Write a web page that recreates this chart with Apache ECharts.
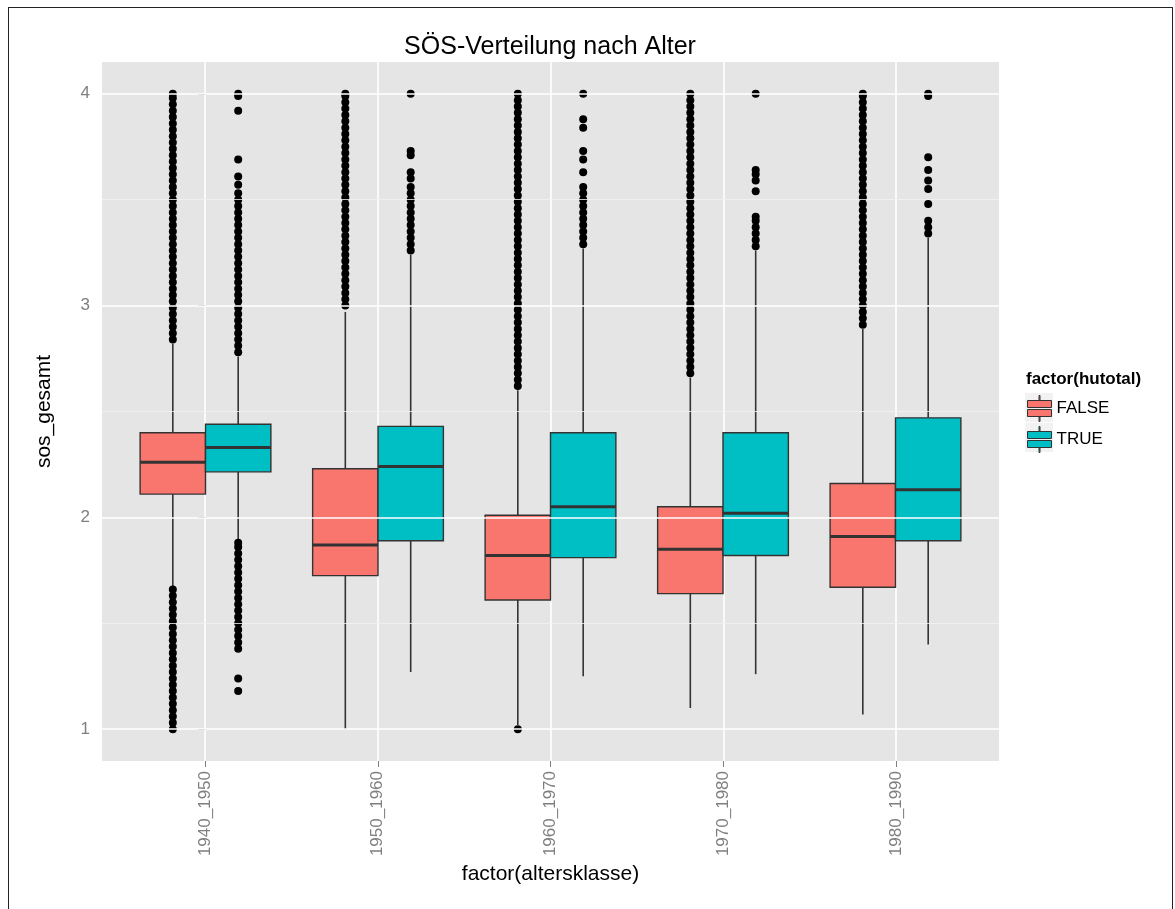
<!DOCTYPE html>
<html><head><meta charset="utf-8">
<script src="https://cdn.jsdelivr.net/npm/echarts@6/dist/echarts.min.js"></script>
<style>
html,body{margin:0;padding:0;background:#fff}
#c{width:1175px;height:909px;position:absolute;left:0;top:0}
#frame{position:absolute;left:8px;top:7px;width:1163px;height:920px;border:1.5px solid #222;pointer-events:none}
</style>
</head><body><div id="c"></div><div id="frame"></div>
<script>
// ---------- data ----------
const categories = ['1940_1950', '1950_1960', '1960_1970', '1970_1980', '1980_1990'];
const groupNames = ['FALSE', 'TRUE'];
const yTicks = [1, 2, 3, 4];
const yMinor = [1.5, 2.5, 3.5];

// [lower whisker, Q1, median, Q3, upper whisker]
const falseStats = [
  [1.67, 2.11, 2.26, 2.40, 2.82],
  [1.00, 1.725, 1.87, 2.23, 2.97],
  [1.02, 1.61, 1.82, 2.01, 2.60],
  [1.10, 1.64, 1.85, 2.05, 2.66],
  [1.07, 1.67, 1.91, 2.16, 2.89]
];
const trueStats = [
  [1.89, 2.215, 2.33, 2.44, 2.76],
  [1.27, 1.89, 2.24, 2.43, 3.24],
  [1.25, 1.81, 2.05, 2.40, 3.27],
  [1.26, 1.82, 2.02, 2.40, 3.26],
  [1.40, 1.89, 2.13, 2.47, 3.32]
];

const falseOutliers = [
  [2.84,2.87,2.90,2.93,2.96,2.99,3.02,3.05,3.08,3.11,3.14,3.17,3.20,3.23,3.26,3.29,3.32,3.35,3.38,3.41,3.44,3.47,3.50,3.53,3.56,3.59,3.62,3.65,3.68,3.71,3.74,3.77,3.80,3.83,3.86,3.89,3.92,3.95,3.98,4.00,
   1.00,1.03,1.06,1.09,1.12,1.15,1.18,1.21,1.24,1.27,1.30,1.33,1.36,1.39,1.42,1.45,1.48,1.51,1.54,1.57,1.60,1.63,1.66],
  [3.00,3.03,3.06,3.09,3.12,3.15,3.18,3.21,3.24,3.27,3.30,3.33,3.36,3.39,3.42,3.45,3.48,3.51,3.54,3.57,3.60,3.63,3.66,3.69,3.72,3.75,3.78,3.81,3.84,3.87,3.90,3.93,3.96,3.99,4.00],
  [2.62,2.65,2.68,2.71,2.74,2.77,2.80,2.83,2.86,2.89,2.92,2.95,2.98,3.01,3.04,3.07,3.10,3.13,3.16,3.19,3.22,3.25,3.28,3.31,3.34,3.37,3.40,3.43,3.46,3.49,3.52,3.55,3.58,3.61,3.64,3.67,3.70,3.73,3.76,3.79,3.82,3.85,3.88,3.91,3.94,3.97,4.00,
   1.00],
  [2.68,2.71,2.74,2.77,2.80,2.83,2.86,2.89,2.92,2.95,2.98,3.01,3.04,3.07,3.10,3.13,3.16,3.19,3.22,3.25,3.28,3.31,3.34,3.37,3.40,3.43,3.46,3.49,3.52,3.55,3.58,3.61,3.64,3.67,3.70,3.73,3.76,3.79,3.82,3.85,3.88,3.91,3.94,3.97,4.00],
  [2.91,2.94,2.97,3.00,3.03,3.06,3.09,3.12,3.15,3.18,3.21,3.24,3.27,3.30,3.33,3.36,3.39,3.42,3.45,3.48,3.51,3.54,3.57,3.60,3.63,3.66,3.69,3.72,3.75,3.78,3.81,3.84,3.87,3.90,3.93,3.96,3.99,4.00]
];
const trueOutliers = [
  [2.78,2.81,2.84,2.87,2.90,2.93,2.96,2.99,3.02,3.05,3.08,3.11,3.14,3.17,3.20,3.23,3.26,3.29,3.32,3.35,3.38,3.41,3.44,3.47,3.50,3.53,3.57,3.61,3.69,3.92,3.99,4.00,
   1.18,1.24,1.38,1.41,1.44,1.47,1.50,1.53,1.56,1.59,1.62,1.65,1.68,1.71,1.74,1.77,1.80,1.83,1.86,1.88],
  [3.26,3.29,3.32,3.35,3.38,3.41,3.44,3.47,3.50,3.53,3.56,3.60,3.63,3.71,3.73,4.00],
  [3.29,3.32,3.35,3.38,3.41,3.44,3.47,3.50,3.53,3.56,3.63,3.69,3.73,3.84,3.88,4.00],
  [3.28,3.31,3.34,3.37,3.40,3.42,3.54,3.59,3.62,3.64,4.00],
  [3.34,3.37,3.40,3.48,3.55,3.59,3.64,3.70,3.99,4.00]
];

// ---------- styling / layout ----------
const FILL = ['#F8766D', '#00BFC4'];
const LINE = '#333333';
const BOX_HALF = 0.1895;          // half box width (category units), boxes dodged side by side
const FONT = "'Liberation Sans', Arial, Helvetica, sans-serif";
const PANEL = {left: 102, right: 176, top: 62, bottom: 148};
const Y_MIN = 0.85, Y_MAX = 4.15;

function boxRenderer(colorIdx) {
  return function (params, api) {
    const x = api.value(0);
    const xc = api.coord([x, api.value(3)])[0];
    const xl = api.coord([x - BOX_HALF, 0])[0];
    const xr = api.coord([x + BOX_HALF, 0])[0];
    const y = k => api.coord([x, api.value(k)])[1];
    const yLow = y(1), yQ1 = y(2), yMed = y(3), yQ3 = y(4), yHigh = y(5);
    return {
      type: 'group',
      children: [
        {type: 'line', shape: {x1: xc, y1: yLow, x2: xc, y2: yQ1}, style: {stroke: LINE, lineWidth: 1.6}},
        {type: 'line', shape: {x1: xc, y1: yQ3, x2: xc, y2: yHigh}, style: {stroke: LINE, lineWidth: 1.6}},
        {type: 'rect', shape: {x: xl, y: yQ3, width: xr - xl, height: yQ1 - yQ3},
          style: {fill: FILL[colorIdx], stroke: LINE, lineWidth: 1.4}},
        {type: 'line', shape: {x1: xl, y1: yMed, x2: xr, y2: yMed}, style: {stroke: LINE, lineWidth: 3}}
      ]
    };
  };
}

const statsList = [falseStats, trueStats];
const outList = [falseOutliers, trueOutliers];
const series = [];

// horizontal gridlines through the y scale
series.push({
  type: 'line', xAxisIndex: 1, yAxisIndex: 1, data: [], silent: true, z: 1, animation: false,
  markLine: {
    silent: true, symbol: ['none', 'none'], label: {show: false}, animation: false,
    data: yMinor.map(v => ({yAxis: v, lineStyle: {color: '#F2F2F2', width: 0.8, type: 'solid'}}))
      .concat(yTicks.map(v => ({yAxis: v, lineStyle: {color: '#FFFFFF', width: 1.6, type: 'solid'}})))
  }
});

[0, 1].forEach(g => {
  const side = g === 0 ? -1 : 1;
  series.push({
    name: groupNames[g],
    type: 'custom',
    xAxisIndex: 1, yAxisIndex: 1,
    z: 3,
    itemStyle: {color: FILL[g], borderColor: LINE, borderWidth: 1},
    renderItem: boxRenderer(g),
    encode: {x: 0, y: [1, 2, 3, 4, 5]},
    data: statsList[g].map((s, i) => [i + side * BOX_HALF].concat(s)),
    animation: false
  });
  const pts = [];
  outList[g].forEach((arr, i) => arr.forEach(v => pts.push([i + side * BOX_HALF, v])));
  series.push({
    name: groupNames[g] + ' outliers',
    type: 'scatter',
    xAxisIndex: 1, yAxisIndex: 1,
    z: 4,
    symbol: 'circle',
    symbolSize: 8,
    itemStyle: {color: '#000', opacity: 1},
    data: pts,
    animation: false
  });
});

const keyIcon = 'path://M0,5H24V12H0Z M0,14H24V21H0Z M11.5,0H12.5V5H11.5Z M11.5,21H12.5V26H11.5Z';

const option = {
  animation: false,
  textStyle: {fontFamily: FONT},
  grid: [
    {left: 205, right: 279, top: PANEL.top, bottom: PANEL.bottom, show: false},
    {left: PANEL.left, right: PANEL.right, top: PANEL.top, bottom: PANEL.bottom, show: true,
      backgroundColor: '#E5E5E5', borderWidth: 0}
  ],
  xAxis: [
    {
      type: 'category', gridIndex: 0, data: categories, boundaryGap: false,
      axisLine: {show: false},
      axisTick: {show: true, length: 6, lineStyle: {color: '#7F7F7F', width: 1}},
      axisLabel: {rotate: 90, color: '#7F7F7F', fontSize: 17, margin: 10, fontFamily: FONT},
      splitLine: {show: true, lineStyle: {color: '#FFFFFF', width: 1.6}},
      name: 'factor(altersklasse)', nameLocation: 'middle', nameGap: 103,
      nameTextStyle: {fontSize: 21, color: '#000', fontFamily: FONT}
    },
    {type: 'value', gridIndex: 1, min: -0.6, max: 4.6, show: false, splitLine: {show: false}}
  ],
  yAxis: [
    {type: 'value', gridIndex: 0, min: Y_MIN, max: Y_MAX, show: false, splitLine: {show: false}},
    {
      type: 'value', gridIndex: 1, min: Y_MIN, max: Y_MAX,
      axisLine: {show: false},
      axisTick: {show: true, length: 7, customValues: yTicks, lineStyle: {color: '#7F7F7F', width: 1}},
      axisLabel: {customValues: yTicks, color: '#7F7F7F', fontSize: 17, margin: 12, fontFamily: FONT,
        formatter: v => String(v)},
      splitLine: {show: false},
      name: 'sos_gesamt', nameLocation: 'middle', nameGap: 47, nameRotate: 90,
      nameTextStyle: {fontSize: 21, color: '#000', fontFamily: FONT}
    }
  ],
  legend: {
    data: groupNames,
    orient: 'vertical',
    left: 1027, top: 395,
    itemWidth: 24, itemHeight: 26, itemGap: 4,
    icon: keyIcon,
    itemStyle: {borderColor: LINE, borderWidth: 1},
    textStyle: {fontSize: 17, color: '#000', fontFamily: FONT},
    selectedMode: false,
    padding: 0,
    z: 5
  },
  graphic: [
    {type: 'rect', shape: {x: 1025, y: 393, width: 28, height: 29}, style: {fill: '#F2F2F2'}, z: 0},
    {type: 'rect', shape: {x: 1025, y: 423, width: 28, height: 29}, style: {fill: '#F2F2F2'}, z: 0},
    {type: 'text', x: 550, y: 47, style: {text: 'SÖS-Verteilung nach Alter', font: "25px " + FONT,
      fill: '#000', textAlign: 'center', textVerticalAlign: 'middle'}},
    {type: 'text', x: 1026, y: 379, style: {text: 'factor(hutotal)', font: "bold 17px " + FONT,
      fill: '#000', textAlign: 'left', textVerticalAlign: 'middle'}}
  ],
  series: series
};

const chart = echarts.init(document.getElementById('c'));
chart.setOption(option);
</script>
</body></html>
